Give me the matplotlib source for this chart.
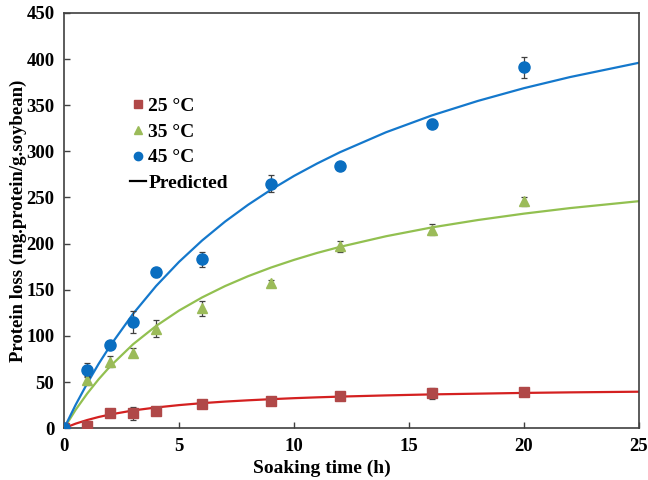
import numpy as np
import matplotlib.pyplot as plt
from matplotlib.lines import Line2D

# measured data
t_obs = [0, 1, 2, 3, 4, 6, 9, 12, 16, 20]
loss_25 = [0, 2, 16, 16, 19, 26, 29, 35, 38, 39]
err_25 = [0, 2, 4, 7, 2, 2, 2, 3, 6, 2]
loss_35 = [0, 52, 72, 82, 108, 130, 157, 197, 215, 246]
err_35 = [0, 5, 6, 5, 9, 8, 4, 6, 6, 5]
loss_45 = [0, 63, 90, 115, 169, 183, 265, 284, 330, 391]
err_45 = [0, 8, 3, 12, 5, 8, 9, 4, 5, 11]

# predicted curves
t_pred = [0, 0.5, 1, 1.5, 2, 3, 4, 5, 6, 7, 8, 9, 10, 11, 12, 14, 16, 18, 20, 22, 25]
pred_25 = [0, 4.9, 8.8, 12.1, 14.8, 19.2, 22.4, 25.0, 27.1, 28.8, 30.2, 31.4, 32.5,
           33.4, 34.2, 35.5, 36.6, 37.4, 38.2, 38.8, 39.5]
pred_35 = [0, 19.9, 37.4, 53.0, 67.0, 91.0, 110.8, 127.5, 141.7, 154.0, 164.7, 174.1,
           182.4, 189.9, 196.5, 208.0, 217.6, 225.6, 232.5, 238.5, 246.0]
pred_45 = [0, 25.3, 48.4, 69.7, 89.2, 124.0, 154.1, 180.3, 203.4, 223.9, 242.1, 258.5,
           273.4, 286.8, 299.1, 320.7, 339.0, 354.7, 368.5, 380.5, 396.0]

plt.rcParams['font.family'] = ['Liberation Serif', 'DejaVu Serif']
plt.rcParams['font.weight'] = 'bold'

fig = plt.figure(figsize=(6.48, 4.8), dpi=100)
ax = fig.add_axes([0.099, 0.108, 0.887, 0.865])

ax.plot(t_pred, pred_25, color='#D42020', lw=1.6, zorder=2)
ax.plot(t_pred, pred_35, color='#92C050', lw=1.6, zorder=2)
ax.plot(t_pred, pred_45, color='#1478CC', lw=1.6, zorder=2)

ekw = dict(ls='none', ecolor='#404040', elinewidth=0.9, capsize=2.5, capthick=0.9, zorder=3)
ax.errorbar(t_obs, loss_25, yerr=err_25, marker='s', ms=7.5, color='#B04848', **ekw)
ax.errorbar(t_obs, loss_35, yerr=err_35, marker='^', ms=7.5, color='#9BBB59', **ekw)
ax.errorbar(t_obs, loss_45, yerr=err_45, marker='o', ms=8, color='#0A6EC0', **ekw)

ax.set_xlim(0, 25)
ax.set_ylim(0, 450)
ax.set_xticks([0, 5, 10, 15, 20, 25])
ax.set_yticks(np.arange(0, 451, 50))
ax.tick_params(axis='both', direction='in', length=4, width=1, color='#404040',
               labelsize=13.5, pad=7)
for lab in ax.get_xticklabels() + ax.get_yticklabels():
    lab.set_fontweight('bold')
for sp in ax.spines.values():
    sp.set_color('#404040')
    sp.set_linewidth(1.2)

ax.set_xlabel('Soaking time (h)', fontsize=14, fontweight='bold')
ax.xaxis.set_label_coords(0.449, -0.075)
ax.set_ylabel('Protein loss (mg.protein/g.soybean)', fontsize=13.5, fontweight='bold')
ax.yaxis.set_label_coords(-0.065, 0.5)

handles = [
    Line2D([], [], ls='none', marker='s', ms=6, color='#B04848'),
    Line2D([], [], ls='none', marker='^', ms=6, color='#9BBB59'),
    Line2D([], [], ls='none', marker='o', ms=6, color='#0A6EC0'),
    Line2D([], [], color='black', lw=1.6),
]
ax.legend(handles, ['25 \u00b0C', '35 \u00b0C', '45 \u00b0C', 'Predicted'],
          loc='upper left', bbox_to_anchor=(0.114, 0.797), frameon=False,
          prop={'size': 14, 'weight': 'bold'}, handlelength=0.85,
          handletextpad=0.1, labelspacing=0.42, borderaxespad=0, borderpad=0)

fig.savefig('out.png', dpi=100)
